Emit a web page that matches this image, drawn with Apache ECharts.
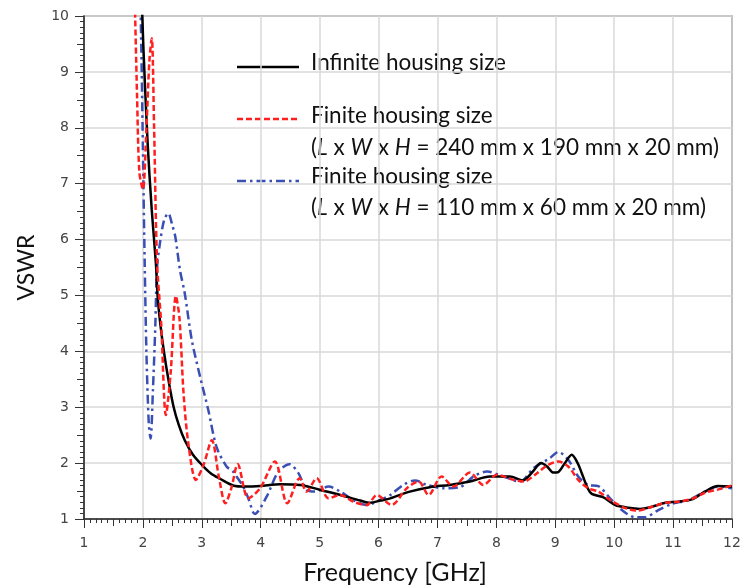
<!DOCTYPE html>
<html>
<head>
<meta charset="utf-8">
<script src="https://cdn.jsdelivr.net/npm/echarts@6/dist/echarts.min.js"></script>
<style>
  html, body { margin: 0; padding: 0; background: #fff; }
  #main { width: 744px; height: 587px; }
</style>
</head>
<body>
<div id="main"></div>
<script>
// VSWR vs frequency
var freqInfinite = [1.98, 1.99, 2.01, 2.08, 2.15, 2.22, 2.25, 2.30, 2.36, 2.44, 2.52, 2.61, 2.71, 2.85, 3.00, 3.15, 3.31, 3.53, 3.75, 3.99, 4.33, 4.67, 5.01, 5.35, 5.69, 5.86, 6.03, 6.20, 6.53, 6.87, 7.21, 7.55, 7.89, 8.23, 8.45, 8.62, 8.76, 8.86, 8.97, 9.05, 9.15, 9.28, 9.38, 9.45, 9.55, 9.62, 9.81, 10.02, 10.24, 10.44, 10.64, 10.87, 11.09, 11.32, 11.54, 11.76, 12.0];
var vswrInfinite = [10.3, 10.0, 9.39, 7.73, 6.53, 5.58, 4.98, 4.45, 3.97, 3.45, 3.01, 2.68, 2.41, 2.15, 1.97, 1.82, 1.72, 1.60, 1.58, 1.59, 1.62, 1.61, 1.52, 1.43, 1.33, 1.29, 1.33, 1.37, 1.49, 1.57, 1.61, 1.67, 1.76, 1.76, 1.69, 1.85, 2.00, 1.94, 1.83, 1.84, 1.98, 2.15, 2.00, 1.82, 1.55, 1.45, 1.39, 1.25, 1.20, 1.18, 1.22, 1.29, 1.31, 1.35, 1.49, 1.59, 1.58];

var freqLarge = [1.86, 1.90, 1.94, 2.00, 2.06, 2.11, 2.15, 2.19, 2.24, 2.31, 2.39, 2.47, 2.56, 2.62, 2.69, 2.77, 2.90, 3.03, 3.17, 3.29, 3.40, 3.50, 3.61, 3.79, 3.99, 4.24, 4.45, 4.66, 4.78, 4.95, 5.15, 5.35, 5.57, 5.80, 5.97, 6.22, 6.48, 6.68, 6.85, 7.07, 7.27, 7.55, 7.78, 8.01, 8.29, 8.46, 8.69, 8.85, 9.05, 9.22, 9.39, 9.56, 9.73, 9.96, 10.18, 10.38, 10.64, 10.87, 11.09, 11.32, 11.54, 11.77, 12.0];
var vswrLarge = [10.4, 8.6, 7.2, 6.9, 8.0, 9.2, 9.6, 8.0, 5.6, 4.5, 2.86, 3.6, 4.99, 4.6, 3.25, 2.36, 1.70, 1.97, 2.41, 1.75, 1.28, 1.55, 1.98, 1.37, 1.55, 2.03, 1.28, 1.73, 1.49, 1.73, 1.37, 1.43, 1.31, 1.25, 1.43, 1.25, 1.55, 1.67, 1.43, 1.76, 1.58, 1.83, 1.61, 1.79, 1.70, 1.67, 1.82, 1.95, 2.03, 1.94, 1.70, 1.55, 1.49, 1.32, 1.20, 1.15, 1.22, 1.29, 1.31, 1.36, 1.47, 1.53, 1.60];

var freqSmall = [1.96, 1.98, 2.00, 2.01, 2.03, 2.06, 2.10, 2.13, 2.17, 2.21, 2.24, 2.29, 2.36, 2.43, 2.50, 2.55, 2.63, 2.71, 2.83, 2.97, 3.11, 3.25, 3.42, 3.53, 3.59, 3.70, 3.79, 3.90, 4.10, 4.30, 4.49, 4.64, 4.78, 4.92, 5.15, 5.35, 5.57, 5.80, 6.03, 6.20, 6.42, 6.62, 6.82, 7.10, 7.38, 7.61, 7.84, 8.12, 8.40, 8.63, 8.91, 9.05, 9.22, 9.39, 9.56, 9.73, 9.93, 10.13, 10.36, 10.52, 10.75, 10.98, 11.26, 11.54, 11.77, 12.0];
var vswrSmall = [10.2, 9.0, 7.6, 6.9, 5.6, 3.97, 2.7, 2.44, 3.3, 4.44, 5.5, 5.94, 6.35, 6.47, 6.25, 6.05, 5.45, 5.04, 4.20, 3.55, 2.95, 2.29, 1.94, 1.85, 1.76, 1.58, 1.37, 1.09, 1.40, 1.85, 1.98, 1.82, 1.52, 1.49, 1.58, 1.49, 1.34, 1.25, 1.34, 1.43, 1.61, 1.69, 1.61, 1.55, 1.57, 1.76, 1.85, 1.76, 1.67, 1.91, 2.09, 2.20, 2.06, 1.76, 1.61, 1.59, 1.37, 1.16, 1.03, 1.03, 1.16, 1.27, 1.34, 1.49, 1.58, 1.55];

function pairs(xs, ys) {
    return xs.map(function (x, i) { return [x, ys[i]]; });
}

var myChart = echarts.init(document.getElementById('main'));

var tickFont = { fontFamily: 'DejaVu Sans', fontSize: 14, color: '#444' };
var textFont = 'Lato';
var legendFont = '22.5px Lato';
var italic = { i: { fontStyle: 'italic', fontFamily: 'Lato', fontSize: 22.5, fill: '#111' } };

// legend drawn by hand: it sits inside the plot, with two-line entries
function legendText(y, text) {
    return {
        type: 'text', x: 311, y: y,
        style: { text: text, font: legendFont, fill: '#111', verticalAlign: 'middle', rich: italic }
    };
}

myChart.setOption({
    animation: false,
    grid: {
        left: 84, right: 12, top: 16, bottom: 68,
        outerBoundsMode: 'none',
        show: true, borderColor: '#333', borderWidth: 1.2
    },
    xAxis: [{
        type: 'value',
        min: 1, max: 12, interval: 1,
        name: 'Frequency [GHz]',
        nameLocation: 'middle',
        nameGap: 41,
        nameTextStyle: { fontFamily: textFont, fontSize: 25, color: '#111', padding: [0, 26, 0, 0] },
        axisLine: { lineStyle: { color: '#222', width: 1.5 } },
        axisTick: { length: 9, lineStyle: { color: '#333' } },
        minorTick: { show: true, splitNumber: 10, length: 4, lineStyle: { color: '#333' } },
        axisLabel: Object.assign({ margin: 17 }, tickFont),
        splitLine: { show: true, lineStyle: { color: '#d9d9d9', width: 1.5 } }
    }, {
        // half-unit ticks
        type: 'value',
        min: 1, max: 12, interval: 0.5,
        position: 'bottom',
        axisLine: { show: false },
        axisTick: { length: 7, lineStyle: { color: '#333' } },
        axisLabel: { show: false },
        splitLine: { show: false }
    }],
    yAxis: [{
        type: 'value',
        min: 1, max: 10, interval: 1,
        name: 'VSWR',
        nameLocation: 'middle',
        nameGap: 46,
        nameTextStyle: { fontFamily: textFont, fontSize: 23, color: '#111' },
        axisLine: { lineStyle: { color: '#222', width: 1.5 } },
        axisTick: { length: 9, lineStyle: { color: '#333' } },
        minorTick: { show: true, splitNumber: 10, length: 4, lineStyle: { color: '#333' } },
        axisLabel: Object.assign({ margin: 15 }, tickFont),
        splitLine: { show: true, lineStyle: { color: '#d9d9d9', width: 1.5 } }
    }, {
        type: 'value',
        min: 1, max: 10, interval: 0.5,
        position: 'left',
        axisLine: { show: false },
        axisTick: { length: 7, lineStyle: { color: '#333' } },
        axisLabel: { show: false },
        splitLine: { show: false }
    }],
    series: [{
        name: 'Infinite housing size',
        type: 'line',
        showSymbol: false,
        smooth: 0.3,
        data: pairs(freqInfinite, vswrInfinite),
        lineStyle: { color: '#000', width: 2.5 },
        z: 3
    }, {
        name: 'Finite housing size (240 x 190 x 20)',
        type: 'line',
        showSymbol: false,
        smooth: 0.3,
        data: pairs(freqLarge, vswrLarge),
        lineStyle: { color: '#ff1f1f', width: 2.5, type: [6, 3] },
        z: 4
    }, {
        name: 'Finite housing size (110 x 60 x 20)',
        type: 'line',
        showSymbol: false,
        smooth: 0.3,
        data: pairs(freqSmall, vswrSmall),
        lineStyle: { color: '#3a4fb4', width: 2.5, type: [9, 4, 2.5, 4] },
        z: 2
    }],
    graphic: [
        { type: 'line', shape: { x1: 237, y1: 67, x2: 299, y2: 67 }, style: { stroke: '#000', lineWidth: 2.5 } },
        legendText(63, 'Infinite housing size'),
        { type: 'line', shape: { x1: 237, y1: 119, x2: 299, y2: 119 }, style: { stroke: '#ff1f1f', lineWidth: 2.5, lineDash: [6, 3] } },
        legendText(116, 'Finite housing size'),
        legendText(148, '({i|L} x {i|W} x {i|H} = 240 mm x 190 mm x 20 mm)'),
        { type: 'line', shape: { x1: 237, y1: 181, x2: 299, y2: 181 }, style: { stroke: '#3a4fb4', lineWidth: 2.5, lineDash: [9, 4, 2.5, 4] } },
        legendText(177, 'Finite housing size'),
        legendText(208, '({i|L} x {i|W} x {i|H} = 110 mm x 60 mm x 20 mm)')
    ]
});
</script>
</body>
</html>
